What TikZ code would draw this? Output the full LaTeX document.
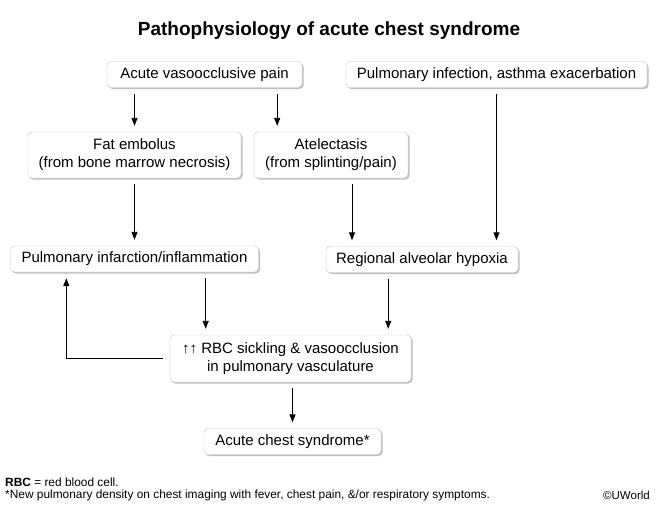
\documentclass[tikz,border=0pt]{standalone}
\usepackage{fontspec}
\setmainfont{Liberation Sans}
\usetikzlibrary{positioning, arrows.meta, shadows}
\tikzset{
  >={Triangle[length=8pt,width=6pt]},
  node distance=104pt,
  box/.style={draw=gray!45, fill=white, rounded corners=4pt, align=center,
    font=\fontsize{15}{18}\selectfont, minimum height=26pt, inner sep=2pt,
    drop shadow={shadow xshift=1.5pt, shadow yshift=-1.5pt, fill=black, opacity=0.25}},
  link/.style={->, line width=0.9pt, shorten <=6pt, shorten >=6pt},
  foot/.style={font=\fontsize{11.9}{14}\selectfont, inner sep=0pt},
}

\begin{document}
\begin{tikzpicture}[x=1pt, y=-1pt]
        \useasboundingbox (0,0) rectangle (658,507);
        \node[font=\bfseries\fontsize{19}{22}\selectfont] (title) at (329,31) {Pathophysiology of acute chest syndrome};

        % boxes
        \node[box, minimum width=195pt] (pain) at (204.5,74.5) {Acute vasoocclusive pain};
        \node[box, minimum width=301pt, right of=pain, node distance=292pt] (infect) {Pulmonary infection, asthma exacerbation};
        \node[box, minimum width=213pt, minimum height=46pt] (fat) at (134.5,155) {Fat embolus\\(from bone marrow necrosis)};
        \node[box, minimum width=154pt, minimum height=46pt] (atel) at (331,155) {Atelectasis\\(from splinting/pain)};
        \node[box, minimum width=248pt, below of=fat] (infarct) {Pulmonary infarction/inflammation};
        \node[box, minimum width=192pt] (hypox) at (422,259.5) {Regional alveolar hypoxia};
        \node[box, minimum width=241pt, minimum height=47pt] (sickle) at (290.5,358.5) {↑↑ RBC sickling \& vasoocclusion\\in pulmonary vasculature};
        \node[box, minimum width=177pt, below of=sickle, node distance=83pt, xshift=2pt] (acs) {Acute chest syndrome*};

        % arrows
        \draw[link] (pain.south -| fat.north) -- (fat.north);
        \draw[link] ([xshift=-25pt]pain.south east) -- ([xshift=-25pt]pain.south east |- atel.north);
        \draw[link] (fat.south) -- (fat.south |- infarct.north);
        \draw[link] ([xshift=21pt]atel.south) -- ([xshift=21pt]atel.south |- hypox.north);
        \draw[link] (infect.south) -- (infect.south |- hypox.north);
        \draw[link] ([xshift=-53pt]infarct.south east) -- ([xshift=-53pt]infarct.south east |- sickle.north);
        \draw[link] ([xshift=-23pt]sickle.north east |- hypox.south) -- ([xshift=-23pt]sickle.north east);
        \draw[link, shorten <=7pt] (sickle.west) -| ([xshift=56pt]infarct.south west);
        \draw[link] (sickle.south -| acs.north) -- (acs.north);

        % notes
        \node[foot, anchor=west] (abbr) at (5,482) {\textbf{RBC} = red blood cell.};
        \node[foot, anchor=west] (note) at (5,495) {*New pulmonary density on chest imaging with fever, chest pain, \&/or respiratory symptoms.};
        \node[foot, anchor=east, font=\fontsize{11.5}{13}\selectfont] (copy) at (650,495) {\textcopyright UWorld};
\end{tikzpicture}
\end{document}
